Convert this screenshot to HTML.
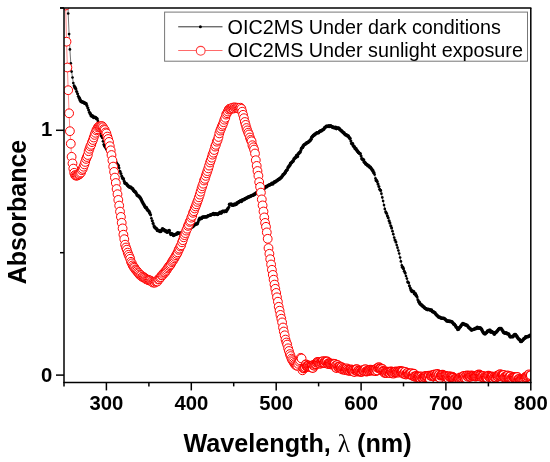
<!DOCTYPE html>
<html><head><meta charset="utf-8"><style>
html,body{margin:0;padding:0;background:#fff;width:550px;height:462px;overflow:hidden}
svg{display:block;will-change:transform}
</style></head><body>
<svg width="550" height="462" viewBox="0 0 550 462">
<clipPath id="c"><rect x="64.0" y="7.9" width="466.8" height="374.5"/></clipPath>
<g clip-path="url(#c)">
<polyline points="65.7,-39.9 66.5,-38.3 67.4,-12 68.2,13.5 69.1,34.1 69.9,49.4 70.8,63.3 71.6,71.6 72.5,77.5 73.3,83.1 74.2,85.7 75,87.6 75.9,89 76.7,91.5 77.6,93.7 78.4,96.3 79.3,98.1 80.1,99.9 81,101.4 81.8,101.8 82.7,102.2 83.5,102.3 84.4,103.1 85.2,103.4 86.1,103.7 86.9,105.6 87.8,107.8 88.6,110 89.5,112.3 90.3,113.7 91.2,115.8 92,115.9 92.9,116.4 93.7,117.5 94.6,117.2 95.4,117.6 96.3,118.3 97.1,119 97.9,121 98.8,125.1 99.6,128.8 100.5,133.3 101.3,135.9 102.2,137.8 103,141.3 103.9,144.5 104.7,146 105.6,147 106.4,148.6 107.3,150 108.1,151 109,151.8 109.8,153.6 110.7,154.4 111.5,156.1 112.4,156.7 113.2,158.7 114.1,159.6 114.9,160.5 115.8,162.1 116.6,163.5 117.5,164.9 118.3,165.7 119.2,168.1 120,171.2 120.9,173.5 121.7,176.1 122.6,178.1 123.4,179 124.3,181.4 125.1,183.3 126,183.6 126.8,184.2 127.7,185.6 128.5,186.2 129.4,187.1 130.2,187.2 131,187.4 131.9,188.5 132.7,188.9 133.6,190.4 134.4,191.4 135.3,191.9 136.1,193.1 137,194.9 137.8,195.7 138.7,196.1 139.5,197.1 140.4,198.1 141.2,199.6 142.1,201.5 142.9,203 143.8,204.5 144.6,206.1 145.5,207.6 146.3,207.5 147.2,209.4 148,210.5 148.9,211.2 149.7,213.1 150.6,214.8 151.4,218.3 152.3,220.7 153.1,223.4 154,225.9 154.8,227.3 155.7,228.3 156.5,228.7 157.4,230.5 158.2,230.4 159.1,230.8 159.9,231.5 160.8,231.5 161.6,230.3 162.5,228.9 163.3,229.6 164.1,229.9 165,230.9 165.8,230.9 166.7,232 167.5,232.2 168.4,231 169.2,230.6 170.1,232.7 170.9,234.4 171.8,233.8 172.6,234.2 173.5,235.4 174.3,234.8 175.2,234.6 176,234.3 176.9,233.9 177.7,232.7 178.6,233.2 179.4,233.4 180.3,233.2 181.1,233.2 182,232.8 182.8,233 183.7,232.1 184.5,231.5 185.4,231.7 186.2,230.6 187.1,229.9 187.9,229.6 188.8,228.8 189.6,228.3 190.5,228 191.3,227.4 192.2,226.4 193,226.6 193.9,225.5 194.7,224.8 195.6,224.3 196.4,223.9 197.3,223.8 198.1,222 198.9,220 199.8,218.3 200.6,218.6 201.5,218.4 202.3,217.4 203.2,217 204,217 204.9,217 205.7,216.8 206.6,217 207.4,216.2 208.3,215.7 209.1,215.5 210,215.2 210.8,214.9 211.7,214.5 212.5,214.2 213.4,213.5 214.2,214.4 215.1,213.9 215.9,213.7 216.8,214.3 217.6,214.4 218.5,213.7 219.3,213.1 220.2,212.3 221,213.2 221.9,212.1 222.7,211.3 223.6,211.4 224.4,211.6 225.3,211 226.1,211.5 227,210 227.8,208.8 228.7,207.2 229.5,204.4 230.4,204.6 231.2,204.1 232,205.2 232.9,205 233.7,205.1 234.6,204.1 235.4,204.6 236.3,204.2 237.1,202.7 238,202.7 238.8,201.9 239.7,201.6 240.5,200.7 241.4,201.4 242.2,200 243.1,199.8 243.9,199.7 244.8,198.9 245.6,198.6 246.5,198.1 247.3,197.8 248.2,197 249,196.9 249.9,196.5 250.7,196.1 251.6,195.8 252.4,195.3 253.3,195.2 254.1,194.4 255,194.1 255.8,193.4 256.7,192.9 257.5,192.1 258.4,192.2 259.2,191.1 260.1,190.7 260.9,190.5 261.8,190 262.6,189.1 263.5,188 264.3,188.3 265.1,187.6 266,186.5 266.8,186.8 267.7,185.8 268.5,185.2 269.4,185.1 270.2,184.6 271.1,184.3 271.9,183.3 272.8,184 273.6,182.8 274.5,181.9 275.3,182 276.2,181.1 277,180.8 277.9,179.9 278.7,179.4 279.6,178.9 280.4,178 281.3,177.6 282.1,176.2 283,174.9 283.8,174.2 284.7,173.3 285.5,171.9 286.4,170.6 287.2,169.8 288.1,167.5 288.9,166.4 289.8,165.3 290.6,163.4 291.5,162.8 292.3,161.7 293.2,160.9 294,159.1 294.9,158.1 295.7,157.5 296.6,155.5 297.4,156.5 298.2,154.1 299.1,153.1 299.9,152.2 300.8,150.4 301.6,148.2 302.5,147.4 303.3,145.9 304.2,144.8 305,144.2 305.9,143.8 306.7,142.7 307.6,142.6 308.4,142.1 309.3,141.3 310.1,140.5 311,139.2 311.8,137.2 312.7,136.2 313.5,135.3 314.4,134.9 315.2,134.1 316.1,133.6 316.9,132.7 317.8,132.7 318.6,132.7 319.5,131.6 320.3,131.1 321.2,130.9 322,130.3 322.9,129.7 323.7,129.2 324.6,127.8 325.4,127.2 326.3,126.3 327.1,126.3 328,126.5 328.8,125.9 329.7,126.5 330.5,125.8 331.3,126.2 332.2,126.9 333,127.4 333.9,127.4 334.7,127.9 335.6,127.4 336.4,128.6 337.3,128.1 338.1,128 339,128.4 339.8,129.4 340.7,130.3 341.5,130.9 342.4,131.7 343.2,132.6 344.1,133.1 344.9,134.2 345.8,134.9 346.6,135.1 347.5,135.9 348.3,136.1 349.2,137.6 350,138.6 350.9,141 351.7,143.6 352.6,143.9 353.4,146 354.3,146.7 355.1,148.4 356,148.9 356.8,150.3 357.7,151.4 358.5,152.5 359.4,153.2 360.2,153.8 361.1,156.1 361.9,158.8 362.8,159.6 363.6,160.1 364.4,162.2 365.3,163.1 366.1,164.2 367,164.5 367.8,165.7 368.7,165.8 369.5,167 370.4,167.4 371.2,168.5 372.1,169.7 372.9,170.9 373.8,172.8 374.6,174.6 375.5,178.4 376.3,180.4 377.2,181.6 378,184.1 378.9,186.5 379.7,189.2 380.6,190.4 381.4,193.7 382.3,197.4 383.1,201 384,205.1 384.8,208.9 385.7,211.7 386.5,213.3 387.4,215.8 388.2,217.8 389.1,220.8 389.9,222.9 390.8,225.8 391.6,227.9 392.5,231.2 393.3,234.2 394.2,237.6 395,240 395.9,242 396.7,245 397.5,247.7 398.4,250.5 399.2,253.5 400.1,257.5 400.9,261.4 401.8,265.4 402.6,267.3 403.5,268.8 404.3,271.3 405.2,273.1 406,276 406.9,278.6 407.7,281.9 408.6,282.8 409.4,285.8 410.3,288.1 411.1,290.1 412,291.4 412.8,291.4 413.7,291.8 414.5,293.7 415.4,293.9 416.2,295.5 417.1,297.1 417.9,299.8 418.8,301.7 419.6,302.9 420.5,304.3 421.3,304.9 422.2,305.6 423,306.5 423.9,307.1 424.7,308 425.6,308.6 426.4,309 427.3,309.6 428.1,309.2 429,309.6 429.8,309.8 430.7,310.3 431.5,310.1 432.3,311.6 433.2,311.8 434,312.3 434.9,312.9 435.7,314.1 436.6,315 437.4,315.7 438.3,316.7 439.1,317.3 440,317.3 440.8,318 441.7,318.2 442.5,318.2 443.4,318.3 444.2,318.5 445.1,319.2 445.9,320 446.8,321 447.6,321.1 448.5,321.1 449.3,321.4 450.2,321.4 451,321.5 451.9,321.9 452.7,322.7 453.6,324.1 454.4,324.3 455.3,325.6 456.1,327 457,327.7 457.8,329.5 458.7,329.1 459.5,327.6 460.4,326.7 461.2,325.5 462.1,324.3 462.9,323.5 463.8,324.1 464.6,324.6 465.4,324.6 466.3,325.3 467.1,325.2 468,326.6 468.8,327.6 469.7,328.2 470.5,329.1 471.4,330.1 472.2,329.8 473.1,329.5 473.9,329.3 474.8,329 475.6,328.3 476.5,328.5 477.3,327.3 478.2,327.9 479,328.2 479.9,327.9 480.7,328.4 481.6,329.4 482.4,331.1 483.3,332.6 484.1,333.4 485,333.9 485.8,333 486.7,332.6 487.5,331 488.4,331.1 489.2,330.3 490.1,330.4 490.9,332.2 491.8,331.6 492.6,332.3 493.5,332.8 494.3,334.2 495.2,332.6 496,332.4 496.9,331.5 497.7,330.5 498.5,329.2 499.4,328.6 500.2,328.5 501.1,328.5 501.9,329.7 502.8,331 503.6,332.4 504.5,332.9 505.3,333.2 506.2,332.7 507,333.6 507.9,334 508.7,334 509.6,335.9 510.4,336.9 511.3,336.5 512.1,336.8 513,336.8 513.8,335.3 514.7,334.6 515.5,334.6 516.4,335.9 517.2,336.9 518.1,338.3 518.9,339.2 519.8,339.7 520.6,341.4 521.5,341.5 522.3,340.5 523.2,339.7 524,338.6 524.9,338.2 525.7,336.8 526.6,337.1 527.4,336.5 528.3,336.6 529.1,336.1 530,335.3 530.8,335.4" fill="none" stroke="#000" stroke-width="0.55"/>
<g fill="#000"><circle cx="65.7" cy="-39.9" r="1.78"/><circle cx="66.5" cy="-38.3" r="1.35"/><circle cx="67.4" cy="-12" r="1.35"/><circle cx="68.2" cy="13.5" r="1.35"/><circle cx="69.1" cy="34.1" r="1.35"/><circle cx="69.9" cy="49.4" r="1.35"/><circle cx="70.8" cy="63.3" r="1.35"/><circle cx="71.6" cy="71.6" r="1.35"/><circle cx="72.5" cy="77.5" r="1.35"/><circle cx="73.3" cy="83.1" r="1.35"/><circle cx="74.2" cy="85.7" r="1.55"/><circle cx="75" cy="87.6" r="1.78"/><circle cx="75.9" cy="89" r="1.55"/><circle cx="76.7" cy="91.5" r="1.55"/><circle cx="77.6" cy="93.7" r="1.55"/><circle cx="78.4" cy="96.3" r="1.55"/><circle cx="79.3" cy="98.1" r="1.78"/><circle cx="80.1" cy="99.9" r="1.78"/><circle cx="81" cy="101.4" r="1.78"/><circle cx="81.8" cy="101.8" r="1.78"/><circle cx="82.7" cy="102.2" r="1.78"/><circle cx="83.5" cy="102.3" r="1.78"/><circle cx="84.4" cy="103.1" r="1.78"/><circle cx="85.2" cy="103.4" r="1.78"/><circle cx="86.1" cy="103.7" r="1.78"/><circle cx="86.9" cy="105.6" r="1.55"/><circle cx="87.8" cy="107.8" r="1.55"/><circle cx="88.6" cy="110" r="1.55"/><circle cx="89.5" cy="112.3" r="1.55"/><circle cx="90.3" cy="113.7" r="1.78"/><circle cx="91.2" cy="115.8" r="1.78"/><circle cx="92" cy="115.9" r="1.78"/><circle cx="92.9" cy="116.4" r="1.78"/><circle cx="93.7" cy="117.5" r="1.78"/><circle cx="94.6" cy="117.2" r="1.78"/><circle cx="95.4" cy="117.6" r="1.78"/><circle cx="96.3" cy="118.3" r="1.78"/><circle cx="97.1" cy="119" r="1.78"/><circle cx="97.9" cy="121" r="1.35"/><circle cx="98.8" cy="125.1" r="1.35"/><circle cx="99.6" cy="128.8" r="1.35"/><circle cx="100.5" cy="133.3" r="1.35"/><circle cx="101.3" cy="135.9" r="1.55"/><circle cx="102.2" cy="137.8" r="1.35"/><circle cx="103" cy="141.3" r="1.35"/><circle cx="103.9" cy="144.5" r="1.55"/><circle cx="104.7" cy="146" r="1.78"/><circle cx="105.6" cy="147" r="1.78"/><circle cx="106.4" cy="148.6" r="1.78"/><circle cx="107.3" cy="150" r="1.78"/><circle cx="108.1" cy="151" r="1.78"/><circle cx="109" cy="151.8" r="1.78"/><circle cx="109.8" cy="153.6" r="1.78"/><circle cx="110.7" cy="154.4" r="1.78"/><circle cx="111.5" cy="156.1" r="1.78"/><circle cx="112.4" cy="156.7" r="1.78"/><circle cx="113.2" cy="158.7" r="1.78"/><circle cx="114.1" cy="159.6" r="1.78"/><circle cx="114.9" cy="160.5" r="1.78"/><circle cx="115.8" cy="162.1" r="1.78"/><circle cx="116.6" cy="163.5" r="1.78"/><circle cx="117.5" cy="164.9" r="1.78"/><circle cx="118.3" cy="165.7" r="1.78"/><circle cx="119.2" cy="168.1" r="1.35"/><circle cx="120" cy="171.2" r="1.55"/><circle cx="120.9" cy="173.5" r="1.55"/><circle cx="121.7" cy="176.1" r="1.55"/><circle cx="122.6" cy="178.1" r="1.78"/><circle cx="123.4" cy="179" r="1.78"/><circle cx="124.3" cy="181.4" r="1.55"/><circle cx="125.1" cy="183.3" r="1.78"/><circle cx="126" cy="183.6" r="1.78"/><circle cx="126.8" cy="184.2" r="1.78"/><circle cx="127.7" cy="185.6" r="1.78"/><circle cx="128.5" cy="186.2" r="1.78"/><circle cx="129.4" cy="187.1" r="1.78"/><circle cx="130.2" cy="187.2" r="1.78"/><circle cx="131" cy="187.4" r="1.78"/><circle cx="131.9" cy="188.5" r="1.78"/><circle cx="132.7" cy="188.9" r="1.78"/><circle cx="133.6" cy="190.4" r="1.78"/><circle cx="134.4" cy="191.4" r="1.78"/><circle cx="135.3" cy="191.9" r="1.78"/><circle cx="136.1" cy="193.1" r="1.78"/><circle cx="137" cy="194.9" r="1.78"/><circle cx="137.8" cy="195.7" r="1.78"/><circle cx="138.7" cy="196.1" r="1.78"/><circle cx="139.5" cy="197.1" r="1.78"/><circle cx="140.4" cy="198.1" r="1.78"/><circle cx="141.2" cy="199.6" r="1.78"/><circle cx="142.1" cy="201.5" r="1.78"/><circle cx="142.9" cy="203" r="1.78"/><circle cx="143.8" cy="204.5" r="1.78"/><circle cx="144.6" cy="206.1" r="1.78"/><circle cx="145.5" cy="207.6" r="1.78"/><circle cx="146.3" cy="207.5" r="1.78"/><circle cx="147.2" cy="209.4" r="1.78"/><circle cx="148" cy="210.5" r="1.78"/><circle cx="148.9" cy="211.2" r="1.78"/><circle cx="149.7" cy="213.1" r="1.78"/><circle cx="150.6" cy="214.8" r="1.55"/><circle cx="151.4" cy="218.3" r="1.35"/><circle cx="152.3" cy="220.7" r="1.55"/><circle cx="153.1" cy="223.4" r="1.55"/><circle cx="154" cy="225.9" r="1.55"/><circle cx="154.8" cy="227.3" r="1.78"/><circle cx="155.7" cy="228.3" r="1.78"/><circle cx="156.5" cy="228.7" r="1.78"/><circle cx="157.4" cy="230.5" r="1.78"/><circle cx="158.2" cy="230.4" r="1.78"/><circle cx="159.1" cy="230.8" r="1.78"/><circle cx="159.9" cy="231.5" r="1.78"/><circle cx="160.8" cy="231.5" r="1.78"/><circle cx="161.6" cy="230.3" r="1.78"/><circle cx="162.5" cy="228.9" r="1.78"/><circle cx="163.3" cy="229.6" r="1.78"/><circle cx="164.1" cy="229.9" r="1.78"/><circle cx="165" cy="230.9" r="1.78"/><circle cx="165.8" cy="230.9" r="1.78"/><circle cx="166.7" cy="232" r="1.78"/><circle cx="167.5" cy="232.2" r="1.78"/><circle cx="168.4" cy="231" r="1.78"/><circle cx="169.2" cy="230.6" r="1.78"/><circle cx="170.1" cy="232.7" r="1.55"/><circle cx="170.9" cy="234.4" r="1.78"/><circle cx="171.8" cy="233.8" r="1.78"/><circle cx="172.6" cy="234.2" r="1.78"/><circle cx="173.5" cy="235.4" r="1.78"/><circle cx="174.3" cy="234.8" r="1.78"/><circle cx="175.2" cy="234.6" r="1.78"/><circle cx="176" cy="234.3" r="1.78"/><circle cx="176.9" cy="233.9" r="1.78"/><circle cx="177.7" cy="232.7" r="1.78"/><circle cx="178.6" cy="233.2" r="1.78"/><circle cx="179.4" cy="233.4" r="1.78"/><circle cx="180.3" cy="233.2" r="1.78"/><circle cx="181.1" cy="233.2" r="1.78"/><circle cx="182" cy="232.8" r="1.78"/><circle cx="182.8" cy="233" r="1.78"/><circle cx="183.7" cy="232.1" r="1.78"/><circle cx="184.5" cy="231.5" r="1.78"/><circle cx="185.4" cy="231.7" r="1.78"/><circle cx="186.2" cy="230.6" r="1.78"/><circle cx="187.1" cy="229.9" r="1.78"/><circle cx="187.9" cy="229.6" r="1.78"/><circle cx="188.8" cy="228.8" r="1.78"/><circle cx="189.6" cy="228.3" r="1.78"/><circle cx="190.5" cy="228" r="1.78"/><circle cx="191.3" cy="227.4" r="1.78"/><circle cx="192.2" cy="226.4" r="1.78"/><circle cx="193" cy="226.6" r="1.78"/><circle cx="193.9" cy="225.5" r="1.78"/><circle cx="194.7" cy="224.8" r="1.78"/><circle cx="195.6" cy="224.3" r="1.78"/><circle cx="196.4" cy="223.9" r="1.78"/><circle cx="197.3" cy="223.8" r="1.78"/><circle cx="198.1" cy="222" r="1.55"/><circle cx="198.9" cy="220" r="1.78"/><circle cx="199.8" cy="218.3" r="1.78"/><circle cx="200.6" cy="218.6" r="1.78"/><circle cx="201.5" cy="218.4" r="1.78"/><circle cx="202.3" cy="217.4" r="1.78"/><circle cx="203.2" cy="217" r="1.78"/><circle cx="204" cy="217" r="1.78"/><circle cx="204.9" cy="217" r="1.78"/><circle cx="205.7" cy="216.8" r="1.78"/><circle cx="206.6" cy="217" r="1.78"/><circle cx="207.4" cy="216.2" r="1.78"/><circle cx="208.3" cy="215.7" r="1.78"/><circle cx="209.1" cy="215.5" r="1.78"/><circle cx="210" cy="215.2" r="1.78"/><circle cx="210.8" cy="214.9" r="1.78"/><circle cx="211.7" cy="214.5" r="1.78"/><circle cx="212.5" cy="214.2" r="1.78"/><circle cx="213.4" cy="213.5" r="1.78"/><circle cx="214.2" cy="214.4" r="1.78"/><circle cx="215.1" cy="213.9" r="1.78"/><circle cx="215.9" cy="213.7" r="1.78"/><circle cx="216.8" cy="214.3" r="1.78"/><circle cx="217.6" cy="214.4" r="1.78"/><circle cx="218.5" cy="213.7" r="1.78"/><circle cx="219.3" cy="213.1" r="1.78"/><circle cx="220.2" cy="212.3" r="1.78"/><circle cx="221" cy="213.2" r="1.78"/><circle cx="221.9" cy="212.1" r="1.78"/><circle cx="222.7" cy="211.3" r="1.78"/><circle cx="223.6" cy="211.4" r="1.78"/><circle cx="224.4" cy="211.6" r="1.78"/><circle cx="225.3" cy="211" r="1.78"/><circle cx="226.1" cy="211.5" r="1.78"/><circle cx="227" cy="210" r="1.78"/><circle cx="227.8" cy="208.8" r="1.78"/><circle cx="228.7" cy="207.2" r="1.55"/><circle cx="229.5" cy="204.4" r="1.78"/><circle cx="230.4" cy="204.6" r="1.78"/><circle cx="231.2" cy="204.1" r="1.78"/><circle cx="232" cy="205.2" r="1.78"/><circle cx="232.9" cy="205" r="1.78"/><circle cx="233.7" cy="205.1" r="1.78"/><circle cx="234.6" cy="204.1" r="1.78"/><circle cx="235.4" cy="204.6" r="1.78"/><circle cx="236.3" cy="204.2" r="1.78"/><circle cx="237.1" cy="202.7" r="1.78"/><circle cx="238" cy="202.7" r="1.78"/><circle cx="238.8" cy="201.9" r="1.78"/><circle cx="239.7" cy="201.6" r="1.78"/><circle cx="240.5" cy="200.7" r="1.78"/><circle cx="241.4" cy="201.4" r="1.78"/><circle cx="242.2" cy="200" r="1.78"/><circle cx="243.1" cy="199.8" r="1.78"/><circle cx="243.9" cy="199.7" r="1.78"/><circle cx="244.8" cy="198.9" r="1.78"/><circle cx="245.6" cy="198.6" r="1.78"/><circle cx="246.5" cy="198.1" r="1.78"/><circle cx="247.3" cy="197.8" r="1.78"/><circle cx="248.2" cy="197" r="1.78"/><circle cx="249" cy="196.9" r="1.78"/><circle cx="249.9" cy="196.5" r="1.78"/><circle cx="250.7" cy="196.1" r="1.78"/><circle cx="251.6" cy="195.8" r="1.78"/><circle cx="252.4" cy="195.3" r="1.78"/><circle cx="253.3" cy="195.2" r="1.78"/><circle cx="254.1" cy="194.4" r="1.78"/><circle cx="255" cy="194.1" r="1.78"/><circle cx="255.8" cy="193.4" r="1.78"/><circle cx="256.7" cy="192.9" r="1.78"/><circle cx="257.5" cy="192.1" r="1.78"/><circle cx="258.4" cy="192.2" r="1.78"/><circle cx="259.2" cy="191.1" r="1.78"/><circle cx="260.1" cy="190.7" r="1.78"/><circle cx="260.9" cy="190.5" r="1.78"/><circle cx="261.8" cy="190" r="1.78"/><circle cx="262.6" cy="189.1" r="1.78"/><circle cx="263.5" cy="188" r="1.78"/><circle cx="264.3" cy="188.3" r="1.78"/><circle cx="265.1" cy="187.6" r="1.78"/><circle cx="266" cy="186.5" r="1.78"/><circle cx="266.8" cy="186.8" r="1.78"/><circle cx="267.7" cy="185.8" r="1.78"/><circle cx="268.5" cy="185.2" r="1.78"/><circle cx="269.4" cy="185.1" r="1.78"/><circle cx="270.2" cy="184.6" r="1.78"/><circle cx="271.1" cy="184.3" r="1.78"/><circle cx="271.9" cy="183.3" r="1.78"/><circle cx="272.8" cy="184" r="1.78"/><circle cx="273.6" cy="182.8" r="1.78"/><circle cx="274.5" cy="181.9" r="1.78"/><circle cx="275.3" cy="182" r="1.78"/><circle cx="276.2" cy="181.1" r="1.78"/><circle cx="277" cy="180.8" r="1.78"/><circle cx="277.9" cy="179.9" r="1.78"/><circle cx="278.7" cy="179.4" r="1.78"/><circle cx="279.6" cy="178.9" r="1.78"/><circle cx="280.4" cy="178" r="1.78"/><circle cx="281.3" cy="177.6" r="1.78"/><circle cx="282.1" cy="176.2" r="1.78"/><circle cx="283" cy="174.9" r="1.78"/><circle cx="283.8" cy="174.2" r="1.78"/><circle cx="284.7" cy="173.3" r="1.78"/><circle cx="285.5" cy="171.9" r="1.78"/><circle cx="286.4" cy="170.6" r="1.78"/><circle cx="287.2" cy="169.8" r="1.78"/><circle cx="288.1" cy="167.5" r="1.78"/><circle cx="288.9" cy="166.4" r="1.78"/><circle cx="289.8" cy="165.3" r="1.78"/><circle cx="290.6" cy="163.4" r="1.78"/><circle cx="291.5" cy="162.8" r="1.78"/><circle cx="292.3" cy="161.7" r="1.78"/><circle cx="293.2" cy="160.9" r="1.78"/><circle cx="294" cy="159.1" r="1.78"/><circle cx="294.9" cy="158.1" r="1.78"/><circle cx="295.7" cy="157.5" r="1.78"/><circle cx="296.6" cy="155.5" r="1.78"/><circle cx="297.4" cy="156.5" r="1.78"/><circle cx="298.2" cy="154.1" r="1.78"/><circle cx="299.1" cy="153.1" r="1.78"/><circle cx="299.9" cy="152.2" r="1.78"/><circle cx="300.8" cy="150.4" r="1.55"/><circle cx="301.6" cy="148.2" r="1.78"/><circle cx="302.5" cy="147.4" r="1.78"/><circle cx="303.3" cy="145.9" r="1.78"/><circle cx="304.2" cy="144.8" r="1.78"/><circle cx="305" cy="144.2" r="1.78"/><circle cx="305.9" cy="143.8" r="1.78"/><circle cx="306.7" cy="142.7" r="1.78"/><circle cx="307.6" cy="142.6" r="1.78"/><circle cx="308.4" cy="142.1" r="1.78"/><circle cx="309.3" cy="141.3" r="1.78"/><circle cx="310.1" cy="140.5" r="1.78"/><circle cx="311" cy="139.2" r="1.78"/><circle cx="311.8" cy="137.2" r="1.78"/><circle cx="312.7" cy="136.2" r="1.78"/><circle cx="313.5" cy="135.3" r="1.78"/><circle cx="314.4" cy="134.9" r="1.78"/><circle cx="315.2" cy="134.1" r="1.78"/><circle cx="316.1" cy="133.6" r="1.78"/><circle cx="316.9" cy="132.7" r="1.78"/><circle cx="317.8" cy="132.7" r="1.78"/><circle cx="318.6" cy="132.7" r="1.78"/><circle cx="319.5" cy="131.6" r="1.78"/><circle cx="320.3" cy="131.1" r="1.78"/><circle cx="321.2" cy="130.9" r="1.78"/><circle cx="322" cy="130.3" r="1.78"/><circle cx="322.9" cy="129.7" r="1.78"/><circle cx="323.7" cy="129.2" r="1.78"/><circle cx="324.6" cy="127.8" r="1.78"/><circle cx="325.4" cy="127.2" r="1.78"/><circle cx="326.3" cy="126.3" r="1.78"/><circle cx="327.1" cy="126.3" r="1.78"/><circle cx="328" cy="126.5" r="1.78"/><circle cx="328.8" cy="125.9" r="1.78"/><circle cx="329.7" cy="126.5" r="1.78"/><circle cx="330.5" cy="125.8" r="1.78"/><circle cx="331.3" cy="126.2" r="1.78"/><circle cx="332.2" cy="126.9" r="1.78"/><circle cx="333" cy="127.4" r="1.78"/><circle cx="333.9" cy="127.4" r="1.78"/><circle cx="334.7" cy="127.9" r="1.78"/><circle cx="335.6" cy="127.4" r="1.78"/><circle cx="336.4" cy="128.6" r="1.78"/><circle cx="337.3" cy="128.1" r="1.78"/><circle cx="338.1" cy="128" r="1.78"/><circle cx="339" cy="128.4" r="1.78"/><circle cx="339.8" cy="129.4" r="1.78"/><circle cx="340.7" cy="130.3" r="1.78"/><circle cx="341.5" cy="130.9" r="1.78"/><circle cx="342.4" cy="131.7" r="1.78"/><circle cx="343.2" cy="132.6" r="1.78"/><circle cx="344.1" cy="133.1" r="1.78"/><circle cx="344.9" cy="134.2" r="1.78"/><circle cx="345.8" cy="134.9" r="1.78"/><circle cx="346.6" cy="135.1" r="1.78"/><circle cx="347.5" cy="135.9" r="1.78"/><circle cx="348.3" cy="136.1" r="1.78"/><circle cx="349.2" cy="137.6" r="1.78"/><circle cx="350" cy="138.6" r="1.78"/><circle cx="350.9" cy="141" r="1.55"/><circle cx="351.7" cy="143.6" r="1.78"/><circle cx="352.6" cy="143.9" r="1.78"/><circle cx="353.4" cy="146" r="1.78"/><circle cx="354.3" cy="146.7" r="1.78"/><circle cx="355.1" cy="148.4" r="1.78"/><circle cx="356" cy="148.9" r="1.78"/><circle cx="356.8" cy="150.3" r="1.78"/><circle cx="357.7" cy="151.4" r="1.78"/><circle cx="358.5" cy="152.5" r="1.78"/><circle cx="359.4" cy="153.2" r="1.78"/><circle cx="360.2" cy="153.8" r="1.78"/><circle cx="361.1" cy="156.1" r="1.55"/><circle cx="361.9" cy="158.8" r="1.78"/><circle cx="362.8" cy="159.6" r="1.78"/><circle cx="363.6" cy="160.1" r="1.78"/><circle cx="364.4" cy="162.2" r="1.78"/><circle cx="365.3" cy="163.1" r="1.78"/><circle cx="366.1" cy="164.2" r="1.78"/><circle cx="367" cy="164.5" r="1.78"/><circle cx="367.8" cy="165.7" r="1.78"/><circle cx="368.7" cy="165.8" r="1.78"/><circle cx="369.5" cy="167" r="1.78"/><circle cx="370.4" cy="167.4" r="1.78"/><circle cx="371.2" cy="168.5" r="1.78"/><circle cx="372.1" cy="169.7" r="1.78"/><circle cx="372.9" cy="170.9" r="1.78"/><circle cx="373.8" cy="172.8" r="1.78"/><circle cx="374.6" cy="174.6" r="1.35"/><circle cx="375.5" cy="178.4" r="1.35"/><circle cx="376.3" cy="180.4" r="1.78"/><circle cx="377.2" cy="181.6" r="1.55"/><circle cx="378" cy="184.1" r="1.55"/><circle cx="378.9" cy="186.5" r="1.55"/><circle cx="379.7" cy="189.2" r="1.55"/><circle cx="380.6" cy="190.4" r="1.55"/><circle cx="381.4" cy="193.7" r="1.35"/><circle cx="382.3" cy="197.4" r="1.35"/><circle cx="383.1" cy="201" r="1.35"/><circle cx="384" cy="205.1" r="1.35"/><circle cx="384.8" cy="208.9" r="1.35"/><circle cx="385.7" cy="211.7" r="1.55"/><circle cx="386.5" cy="213.3" r="1.55"/><circle cx="387.4" cy="215.8" r="1.55"/><circle cx="388.2" cy="217.8" r="1.55"/><circle cx="389.1" cy="220.8" r="1.55"/><circle cx="389.9" cy="222.9" r="1.55"/><circle cx="390.8" cy="225.8" r="1.55"/><circle cx="391.6" cy="227.9" r="1.55"/><circle cx="392.5" cy="231.2" r="1.35"/><circle cx="393.3" cy="234.2" r="1.35"/><circle cx="394.2" cy="237.6" r="1.35"/><circle cx="395" cy="240" r="1.55"/><circle cx="395.9" cy="242" r="1.55"/><circle cx="396.7" cy="245" r="1.35"/><circle cx="397.5" cy="247.7" r="1.35"/><circle cx="398.4" cy="250.5" r="1.35"/><circle cx="399.2" cy="253.5" r="1.35"/><circle cx="400.1" cy="257.5" r="1.35"/><circle cx="400.9" cy="261.4" r="1.35"/><circle cx="401.8" cy="265.4" r="1.35"/><circle cx="402.6" cy="267.3" r="1.78"/><circle cx="403.5" cy="268.8" r="1.55"/><circle cx="404.3" cy="271.3" r="1.55"/><circle cx="405.2" cy="273.1" r="1.55"/><circle cx="406" cy="276" r="1.35"/><circle cx="406.9" cy="278.6" r="1.35"/><circle cx="407.7" cy="281.9" r="1.55"/><circle cx="408.6" cy="282.8" r="1.55"/><circle cx="409.4" cy="285.8" r="1.55"/><circle cx="410.3" cy="288.1" r="1.55"/><circle cx="411.1" cy="290.1" r="1.78"/><circle cx="412" cy="291.4" r="1.78"/><circle cx="412.8" cy="291.4" r="1.78"/><circle cx="413.7" cy="291.8" r="1.78"/><circle cx="414.5" cy="293.7" r="1.78"/><circle cx="415.4" cy="293.9" r="1.78"/><circle cx="416.2" cy="295.5" r="1.78"/><circle cx="417.1" cy="297.1" r="1.55"/><circle cx="417.9" cy="299.8" r="1.55"/><circle cx="418.8" cy="301.7" r="1.78"/><circle cx="419.6" cy="302.9" r="1.78"/><circle cx="420.5" cy="304.3" r="1.78"/><circle cx="421.3" cy="304.9" r="1.78"/><circle cx="422.2" cy="305.6" r="1.78"/><circle cx="423" cy="306.5" r="1.78"/><circle cx="423.9" cy="307.1" r="1.78"/><circle cx="424.7" cy="308" r="1.78"/><circle cx="425.6" cy="308.6" r="1.78"/><circle cx="426.4" cy="309" r="1.78"/><circle cx="427.3" cy="309.6" r="1.78"/><circle cx="428.1" cy="309.2" r="1.78"/><circle cx="429" cy="309.6" r="1.78"/><circle cx="429.8" cy="309.8" r="1.78"/><circle cx="430.7" cy="310.3" r="1.78"/><circle cx="431.5" cy="310.1" r="1.78"/><circle cx="432.3" cy="311.6" r="1.78"/><circle cx="433.2" cy="311.8" r="1.78"/><circle cx="434" cy="312.3" r="1.78"/><circle cx="434.9" cy="312.9" r="1.78"/><circle cx="435.7" cy="314.1" r="1.78"/><circle cx="436.6" cy="315" r="1.78"/><circle cx="437.4" cy="315.7" r="1.78"/><circle cx="438.3" cy="316.7" r="1.78"/><circle cx="439.1" cy="317.3" r="1.78"/><circle cx="440" cy="317.3" r="1.78"/><circle cx="440.8" cy="318" r="1.78"/><circle cx="441.7" cy="318.2" r="1.78"/><circle cx="442.5" cy="318.2" r="1.78"/><circle cx="443.4" cy="318.3" r="1.78"/><circle cx="444.2" cy="318.5" r="1.78"/><circle cx="445.1" cy="319.2" r="1.78"/><circle cx="445.9" cy="320" r="1.78"/><circle cx="446.8" cy="321" r="1.78"/><circle cx="447.6" cy="321.1" r="1.78"/><circle cx="448.5" cy="321.1" r="1.78"/><circle cx="449.3" cy="321.4" r="1.78"/><circle cx="450.2" cy="321.4" r="1.78"/><circle cx="451" cy="321.5" r="1.78"/><circle cx="451.9" cy="321.9" r="1.78"/><circle cx="452.7" cy="322.7" r="1.78"/><circle cx="453.6" cy="324.1" r="1.78"/><circle cx="454.4" cy="324.3" r="1.78"/><circle cx="455.3" cy="325.6" r="1.78"/><circle cx="456.1" cy="327" r="1.78"/><circle cx="457" cy="327.7" r="1.78"/><circle cx="457.8" cy="329.5" r="1.78"/><circle cx="458.7" cy="329.1" r="1.78"/><circle cx="459.5" cy="327.6" r="1.78"/><circle cx="460.4" cy="326.7" r="1.78"/><circle cx="461.2" cy="325.5" r="1.78"/><circle cx="462.1" cy="324.3" r="1.78"/><circle cx="462.9" cy="323.5" r="1.78"/><circle cx="463.8" cy="324.1" r="1.78"/><circle cx="464.6" cy="324.6" r="1.78"/><circle cx="465.4" cy="324.6" r="1.78"/><circle cx="466.3" cy="325.3" r="1.78"/><circle cx="467.1" cy="325.2" r="1.78"/><circle cx="468" cy="326.6" r="1.78"/><circle cx="468.8" cy="327.6" r="1.78"/><circle cx="469.7" cy="328.2" r="1.78"/><circle cx="470.5" cy="329.1" r="1.78"/><circle cx="471.4" cy="330.1" r="1.78"/><circle cx="472.2" cy="329.8" r="1.78"/><circle cx="473.1" cy="329.5" r="1.78"/><circle cx="473.9" cy="329.3" r="1.78"/><circle cx="474.8" cy="329" r="1.78"/><circle cx="475.6" cy="328.3" r="1.78"/><circle cx="476.5" cy="328.5" r="1.78"/><circle cx="477.3" cy="327.3" r="1.78"/><circle cx="478.2" cy="327.9" r="1.78"/><circle cx="479" cy="328.2" r="1.78"/><circle cx="479.9" cy="327.9" r="1.78"/><circle cx="480.7" cy="328.4" r="1.78"/><circle cx="481.6" cy="329.4" r="1.78"/><circle cx="482.4" cy="331.1" r="1.78"/><circle cx="483.3" cy="332.6" r="1.78"/><circle cx="484.1" cy="333.4" r="1.78"/><circle cx="485" cy="333.9" r="1.78"/><circle cx="485.8" cy="333" r="1.78"/><circle cx="486.7" cy="332.6" r="1.78"/><circle cx="487.5" cy="331" r="1.78"/><circle cx="488.4" cy="331.1" r="1.78"/><circle cx="489.2" cy="330.3" r="1.78"/><circle cx="490.1" cy="330.4" r="1.78"/><circle cx="490.9" cy="332.2" r="1.78"/><circle cx="491.8" cy="331.6" r="1.78"/><circle cx="492.6" cy="332.3" r="1.78"/><circle cx="493.5" cy="332.8" r="1.78"/><circle cx="494.3" cy="334.2" r="1.78"/><circle cx="495.2" cy="332.6" r="1.78"/><circle cx="496" cy="332.4" r="1.78"/><circle cx="496.9" cy="331.5" r="1.78"/><circle cx="497.7" cy="330.5" r="1.78"/><circle cx="498.5" cy="329.2" r="1.78"/><circle cx="499.4" cy="328.6" r="1.78"/><circle cx="500.2" cy="328.5" r="1.78"/><circle cx="501.1" cy="328.5" r="1.78"/><circle cx="501.9" cy="329.7" r="1.78"/><circle cx="502.8" cy="331" r="1.78"/><circle cx="503.6" cy="332.4" r="1.78"/><circle cx="504.5" cy="332.9" r="1.78"/><circle cx="505.3" cy="333.2" r="1.78"/><circle cx="506.2" cy="332.7" r="1.78"/><circle cx="507" cy="333.6" r="1.78"/><circle cx="507.9" cy="334" r="1.78"/><circle cx="508.7" cy="334" r="1.78"/><circle cx="509.6" cy="335.9" r="1.78"/><circle cx="510.4" cy="336.9" r="1.78"/><circle cx="511.3" cy="336.5" r="1.78"/><circle cx="512.1" cy="336.8" r="1.78"/><circle cx="513" cy="336.8" r="1.78"/><circle cx="513.8" cy="335.3" r="1.78"/><circle cx="514.7" cy="334.6" r="1.78"/><circle cx="515.5" cy="334.6" r="1.78"/><circle cx="516.4" cy="335.9" r="1.78"/><circle cx="517.2" cy="336.9" r="1.78"/><circle cx="518.1" cy="338.3" r="1.78"/><circle cx="518.9" cy="339.2" r="1.78"/><circle cx="519.8" cy="339.7" r="1.78"/><circle cx="520.6" cy="341.4" r="1.78"/><circle cx="521.5" cy="341.5" r="1.78"/><circle cx="522.3" cy="340.5" r="1.78"/><circle cx="523.2" cy="339.7" r="1.78"/><circle cx="524" cy="338.6" r="1.78"/><circle cx="524.9" cy="338.2" r="1.78"/><circle cx="525.7" cy="336.8" r="1.78"/><circle cx="526.6" cy="337.1" r="1.78"/><circle cx="527.4" cy="336.5" r="1.78"/><circle cx="528.3" cy="336.6" r="1.78"/><circle cx="529.1" cy="336.1" r="1.78"/><circle cx="530" cy="335.3" r="1.78"/><circle cx="530.8" cy="335.4" r="1.78"/></g>
<polyline points="65.7,5.5 66.5,41.7 67.4,67.5 68.2,90.2 69.1,113.3 69.9,131.2 70.8,143.7 71.6,156.8 72.5,163.4 73.3,168.6 74.2,172.8 75,175.1 75.9,175.6 76.7,175.6 77.6,175.4 78.4,174.7 79.3,174.4 80.1,173.5 81,172.5 81.8,170.2 82.7,168.9 83.5,166.7 84.4,164.4 85.2,161.9 86.1,158.9 86.9,157 87.8,155 88.6,151.2 89.5,148.8 90.3,146.4 91.2,144.8 92,142.1 92.9,140 93.7,137.5 94.6,134.9 95.4,132.8 96.3,130.4 97.1,129.2 97.9,127.4 98.8,126.5 99.6,126.5 100.5,126.9 101.3,126.1 102.2,126.2 103,127.3 103.9,129.2 104.7,130 105.6,132.4 106.4,133.4 107.3,136.6 108.1,139 109,141.9 109.8,146.2 110.7,150.3 111.5,155 112.4,160.4 113.2,166.6 114.1,171.9 114.9,177.6 115.8,183 116.6,189 117.5,194.2 118.3,199.9 119.2,205.6 120,211.6 120.9,216.9 121.7,222.8 122.6,228.4 123.4,234.7 124.3,239.2 125.1,244.7 126,247.5 126.8,249.7 127.7,252.6 128.5,254.8 129.4,256.7 130.2,258.8 131,261.8 131.9,263.4 132.7,265.4 133.6,266.8 134.4,267.8 135.3,269.4 136.1,270.2 137,271.1 137.8,272.4 138.7,273.2 139.5,274.5 140.4,275.4 141.2,275.4 142.1,276.8 142.9,276.6 143.8,277.5 144.6,277.8 145.5,278.6 146.3,279.3 147.2,279.5 148,279.8 148.9,280.2 149.7,280.5 150.6,280.6 151.4,281.5 152.3,282.1 153.1,282.6 154,282.3 154.8,282.7 155.7,281.7 156.5,281.2 157.4,281.5 158.2,279.5 159.1,279.3 159.9,277.8 160.8,277.2 161.6,275.4 162.5,275.3 163.3,273.9 164.1,272.6 165,272.5 165.8,271.2 166.7,269.9 167.5,268.4 168.4,267.4 169.2,266.1 170.1,265.2 170.9,264 171.8,262.2 172.6,261 173.5,259.8 174.3,258.3 175.2,256.9 176,255.3 176.9,253.9 177.7,252.3 178.6,249.9 179.4,248.6 180.3,246.5 181.1,245.3 182,242.3 182.8,240.2 183.7,237.3 184.5,235.1 185.4,233.1 186.2,230.6 187.1,228.7 187.9,225.9 188.8,224.6 189.6,221.9 190.5,220.7 191.3,217.7 192.2,216 193,212.8 193.9,211.2 194.7,208.5 195.6,206.4 196.4,204.3 197.3,201.9 198.1,199.8 198.9,197.3 199.8,194.6 200.6,191.7 201.5,188.6 202.3,186.2 203.2,183.7 204,180.5 204.9,178.8 205.7,175.9 206.6,173.3 207.4,171.1 208.3,168.4 209.1,165.6 210,162.5 210.8,160.3 211.7,157.7 212.5,154.7 213.4,152.7 214.2,150 215.1,146.6 215.9,144.8 216.8,141.7 217.6,140 218.5,137 219.3,133.4 220.2,130.6 221,128.7 221.9,126.3 222.7,124.7 223.6,122.2 224.4,119.7 225.3,117.8 226.1,114.6 227,113.2 227.8,111.5 228.7,109.6 229.5,108.7 230.4,108.6 231.2,109 232,108.2 232.9,107.6 233.7,108.5 234.6,107.3 235.4,108.1 236.3,107.7 237.1,108.2 238,107.7 238.8,108.6 239.7,108.3 240.5,107.7 241.4,108.8 242.2,111.7 243.1,114.8 243.9,118.2 244.8,122 245.6,124.9 246.5,128 247.3,130.4 248.2,132.7 249,134.5 249.9,137.5 250.7,139.9 251.6,141.3 252.4,145.2 253.3,147.3 254.1,149.6 255,153.5 255.8,160.2 256.7,165.9 257.5,171 258.4,175.8 259.2,182.1 260.1,186.9 260.9,192.6 261.8,199.4 262.6,205.4 263.5,211.5 264.3,217.4 265.1,222.9 266,226.8 266.8,232.4 267.7,238.8 268.5,248.1 269.4,253.8 270.2,259.2 271.1,264.5 271.9,269.8 272.8,274.9 273.6,279.7 274.5,284.6 275.3,288.8 276.2,292.9 277,297.3 277.9,301.7 278.7,306.8 279.6,310.7 280.4,314.9 281.3,318.7 282.1,322.4 283,327.5 283.8,331.5 284.7,335.3 285.5,339.6 286.4,342.5 287.2,344.6 288.1,348.3 288.9,351 289.8,354.1 290.6,356.1 291.5,358.6 292.3,360.1 293.2,361.4 294,363 294.9,364.2 295.7,365 296.6,365.7 297.4,365.7 298.2,363.8 299.1,361.7 299.9,360.2 300.8,357.8 301.6,358.5 302.5,370.3 303.3,368.4 304.2,368.3 305,367.2 305.9,364.5 306.7,366.2 307.6,366.6 308.4,365.6 309.3,366.5 310.1,366.7 311,367.3 311.8,366.6 312.7,368 313.5,365.1 314.4,365.8 315.2,364.5 316.1,364.3 316.9,362.8 317.8,361.9 318.6,362.4 319.5,363.3 320.3,363.7 321.2,362.8 322,362.5 322.9,361.3 323.7,363 324.6,362.7 325.4,361.2 326.3,362 327.1,361.5 328,363.9 328.8,363.3 329.7,363.3 330.5,364 331.3,364.4 332.2,364 333,363.7 333.9,364 334.7,364 335.6,366.1 336.4,367.9 337.3,365.1 338.1,366.9 339,367.4 339.8,366.6 340.7,367.9 341.5,367.2 342.4,369.4 343.2,368.3 344.1,369.2 344.9,370 345.8,369.3 346.6,368.4 347.5,369.6 348.3,370.8 349.2,370.3 350,370.7 350.9,369.6 351.7,370.5 352.6,371 353.4,370.4 354.3,371.9 355.1,370.1 356,369.6 356.8,369.2 357.7,371.5 358.5,370.6 359.4,371.5 360.2,371.1 361.1,372 361.9,371.6 362.8,370.2 363.6,370.6 364.4,371.1 365.3,369.2 366.1,371.5 367,371.3 367.8,371.2 368.7,370.3 369.5,370.8 370.4,369.7 371.2,370.6 372.1,370 372.9,370.5 373.8,370 374.6,370.5 375.5,371.1 376.3,368.9 377.2,370.5 378,367.9 378.9,367.3 379.7,368.5 380.6,368.6 381.4,369.8 382.3,369 383.1,371 384,371.6 384.8,372.9 385.7,372.3 386.5,372.9 387.4,371.7 388.2,372.3 389.1,372.1 389.9,373.1 390.8,371.6 391.6,371.7 392.5,372.7 393.3,373.6 394.2,372.4 395,372.2 395.9,371.5 396.7,372.5 397.5,371.8 398.4,372.6 399.2,371.8 400.1,371.1 400.9,371.7 401.8,371.6 402.6,371.6 403.5,373.7 404.3,373.4 405.2,371.9 406,374.4 406.9,373.5 407.7,372.9 408.6,374.3 409.4,374.2 410.3,374 411.1,373.3 412,375.2 412.8,375.7 413.7,373.7 414.5,376.4 415.4,376.7 416.2,376.1 417.1,376.8 417.9,376.8 418.8,376.5 419.6,377.1 420.5,378.6 421.3,376.5 422.2,378.1 423,377.9 423.9,377 424.7,377 425.6,376 426.4,376.2 427.3,376.8 428.1,376.9 429,375.8 429.8,378.8 430.7,375.7 431.5,376 432.3,375.4 433.2,375 434,376.1 434.9,374.5 435.7,375.7 436.6,375.4 437.4,374 438.3,376 439.1,374.9 440,378 440.8,375.6 441.7,375.3 442.5,374.7 443.4,375.4 444.2,376.1 445.1,376 445.9,376 446.8,376.7 447.6,377.2 448.5,378.6 449.3,376.2 450.2,377.3 451,377.1 451.9,376.7 452.7,377.2 453.6,377.8 454.4,379.4 455.3,378.9 456.1,378.9 457,379.8 457.8,379.3 458.7,378.6 459.5,378.8 460.4,377.6 461.2,378.4 462.1,378 462.9,377 463.8,376.1 464.6,377.9 465.4,376.5 466.3,378.6 467.1,375.6 468,376.8 468.8,375.7 469.7,376.2 470.5,376.7 471.4,375.4 472.2,375.9 473.1,376 473.9,375.9 474.8,376.2 475.6,376.4 476.5,376.2 477.3,375.6 478.2,375 479,374.6 479.9,375.2 480.7,375.7 481.6,376.9 482.4,376.4 483.3,376 484.1,377.7 485,376.9 485.8,377.2 486.7,377.6 487.5,378.1 488.4,375.7 489.2,376.6 490.1,377.5 490.9,377 491.8,376.5 492.6,376.9 493.5,378.5 494.3,377 495.2,377.6 496,377.4 496.9,376 497.7,376.4 498.5,375.4 499.4,374.9 500.2,374.2 501.1,375.9 501.9,375.1 502.8,375.2 503.6,375 504.5,377.6 505.3,376.9 506.2,376.4 507,376.1 507.9,375.6 508.7,377.3 509.6,377.4 510.4,376.3 511.3,378.5 512.1,378.2 513,377 513.8,377.4 514.7,377.6 515.5,378.2 516.4,378.1 517.2,377.1 518.1,379.7 518.9,379 519.8,380.1 520.6,380.3 521.5,379.2 522.3,379.3 523.2,379.3 524,379 524.9,377.9 525.7,377.1 526.6,377.2 527.4,376.1 528.3,375.8 529.1,374.4 530,376.1 530.8,375.2" fill="none" stroke="#ff8a8a" stroke-width="1"/>
<g fill="#fff" stroke="#ff0000" stroke-width="1"><circle cx="65.7" cy="5.5" r="4.4"/><circle cx="66.5" cy="41.7" r="4.4"/><circle cx="67.4" cy="67.5" r="4.4"/><circle cx="68.2" cy="90.2" r="4.4"/><circle cx="69.1" cy="113.3" r="4.4"/><circle cx="69.9" cy="131.2" r="4.4"/><circle cx="70.8" cy="143.7" r="4.4"/><circle cx="71.6" cy="156.8" r="4.4"/><circle cx="72.5" cy="163.4" r="4.4"/><circle cx="73.3" cy="168.6" r="4.4"/><circle cx="74.2" cy="172.8" r="4.4"/><circle cx="75" cy="175.1" r="4.4"/><circle cx="75.9" cy="175.6" r="4.4"/><circle cx="76.7" cy="175.6" r="4.4"/><circle cx="77.6" cy="175.4" r="4.4"/><circle cx="78.4" cy="174.7" r="4.4"/><circle cx="79.3" cy="174.4" r="4.4"/><circle cx="80.1" cy="173.5" r="4.4"/><circle cx="81" cy="172.5" r="4.4"/><circle cx="81.8" cy="170.2" r="4.4"/><circle cx="82.7" cy="168.9" r="4.4"/><circle cx="83.5" cy="166.7" r="4.4"/><circle cx="84.4" cy="164.4" r="4.4"/><circle cx="85.2" cy="161.9" r="4.4"/><circle cx="86.1" cy="158.9" r="4.4"/><circle cx="86.9" cy="157" r="4.4"/><circle cx="87.8" cy="155" r="4.4"/><circle cx="88.6" cy="151.2" r="4.4"/><circle cx="89.5" cy="148.8" r="4.4"/><circle cx="90.3" cy="146.4" r="4.4"/><circle cx="91.2" cy="144.8" r="4.4"/><circle cx="92" cy="142.1" r="4.4"/><circle cx="92.9" cy="140" r="4.4"/><circle cx="93.7" cy="137.5" r="4.4"/><circle cx="94.6" cy="134.9" r="4.4"/><circle cx="95.4" cy="132.8" r="4.4"/><circle cx="96.3" cy="130.4" r="4.4"/><circle cx="97.1" cy="129.2" r="4.4"/><circle cx="97.9" cy="127.4" r="4.4"/><circle cx="98.8" cy="126.5" r="4.4"/><circle cx="99.6" cy="126.5" r="4.4"/><circle cx="100.5" cy="126.9" r="4.4"/><circle cx="101.3" cy="126.1" r="4.4"/><circle cx="102.2" cy="126.2" r="4.4"/><circle cx="103" cy="127.3" r="4.4"/><circle cx="103.9" cy="129.2" r="4.4"/><circle cx="104.7" cy="130" r="4.4"/><circle cx="105.6" cy="132.4" r="4.4"/><circle cx="106.4" cy="133.4" r="4.4"/><circle cx="107.3" cy="136.6" r="4.4"/><circle cx="108.1" cy="139" r="4.4"/><circle cx="109" cy="141.9" r="4.4"/><circle cx="109.8" cy="146.2" r="4.4"/><circle cx="110.7" cy="150.3" r="4.4"/><circle cx="111.5" cy="155" r="4.4"/><circle cx="112.4" cy="160.4" r="4.4"/><circle cx="113.2" cy="166.6" r="4.4"/><circle cx="114.1" cy="171.9" r="4.4"/><circle cx="114.9" cy="177.6" r="4.4"/><circle cx="115.8" cy="183" r="4.4"/><circle cx="116.6" cy="189" r="4.4"/><circle cx="117.5" cy="194.2" r="4.4"/><circle cx="118.3" cy="199.9" r="4.4"/><circle cx="119.2" cy="205.6" r="4.4"/><circle cx="120" cy="211.6" r="4.4"/><circle cx="120.9" cy="216.9" r="4.4"/><circle cx="121.7" cy="222.8" r="4.4"/><circle cx="122.6" cy="228.4" r="4.4"/><circle cx="123.4" cy="234.7" r="4.4"/><circle cx="124.3" cy="239.2" r="4.4"/><circle cx="125.1" cy="244.7" r="4.4"/><circle cx="126" cy="247.5" r="4.4"/><circle cx="126.8" cy="249.7" r="4.4"/><circle cx="127.7" cy="252.6" r="4.4"/><circle cx="128.5" cy="254.8" r="4.4"/><circle cx="129.4" cy="256.7" r="4.4"/><circle cx="130.2" cy="258.8" r="4.4"/><circle cx="131" cy="261.8" r="4.4"/><circle cx="131.9" cy="263.4" r="4.4"/><circle cx="132.7" cy="265.4" r="4.4"/><circle cx="133.6" cy="266.8" r="4.4"/><circle cx="134.4" cy="267.8" r="4.4"/><circle cx="135.3" cy="269.4" r="4.4"/><circle cx="136.1" cy="270.2" r="4.4"/><circle cx="137" cy="271.1" r="4.4"/><circle cx="137.8" cy="272.4" r="4.4"/><circle cx="138.7" cy="273.2" r="4.4"/><circle cx="139.5" cy="274.5" r="4.4"/><circle cx="140.4" cy="275.4" r="4.4"/><circle cx="141.2" cy="275.4" r="4.4"/><circle cx="142.1" cy="276.8" r="4.4"/><circle cx="142.9" cy="276.6" r="4.4"/><circle cx="143.8" cy="277.5" r="4.4"/><circle cx="144.6" cy="277.8" r="4.4"/><circle cx="145.5" cy="278.6" r="4.4"/><circle cx="146.3" cy="279.3" r="4.4"/><circle cx="147.2" cy="279.5" r="4.4"/><circle cx="148" cy="279.8" r="4.4"/><circle cx="148.9" cy="280.2" r="4.4"/><circle cx="149.7" cy="280.5" r="4.4"/><circle cx="150.6" cy="280.6" r="4.4"/><circle cx="151.4" cy="281.5" r="4.4"/><circle cx="152.3" cy="282.1" r="4.4"/><circle cx="153.1" cy="282.6" r="4.4"/><circle cx="154" cy="282.3" r="4.4"/><circle cx="154.8" cy="282.7" r="4.4"/><circle cx="155.7" cy="281.7" r="4.4"/><circle cx="156.5" cy="281.2" r="4.4"/><circle cx="157.4" cy="281.5" r="4.4"/><circle cx="158.2" cy="279.5" r="4.4"/><circle cx="159.1" cy="279.3" r="4.4"/><circle cx="159.9" cy="277.8" r="4.4"/><circle cx="160.8" cy="277.2" r="4.4"/><circle cx="161.6" cy="275.4" r="4.4"/><circle cx="162.5" cy="275.3" r="4.4"/><circle cx="163.3" cy="273.9" r="4.4"/><circle cx="164.1" cy="272.6" r="4.4"/><circle cx="165" cy="272.5" r="4.4"/><circle cx="165.8" cy="271.2" r="4.4"/><circle cx="166.7" cy="269.9" r="4.4"/><circle cx="167.5" cy="268.4" r="4.4"/><circle cx="168.4" cy="267.4" r="4.4"/><circle cx="169.2" cy="266.1" r="4.4"/><circle cx="170.1" cy="265.2" r="4.4"/><circle cx="170.9" cy="264" r="4.4"/><circle cx="171.8" cy="262.2" r="4.4"/><circle cx="172.6" cy="261" r="4.4"/><circle cx="173.5" cy="259.8" r="4.4"/><circle cx="174.3" cy="258.3" r="4.4"/><circle cx="175.2" cy="256.9" r="4.4"/><circle cx="176" cy="255.3" r="4.4"/><circle cx="176.9" cy="253.9" r="4.4"/><circle cx="177.7" cy="252.3" r="4.4"/><circle cx="178.6" cy="249.9" r="4.4"/><circle cx="179.4" cy="248.6" r="4.4"/><circle cx="180.3" cy="246.5" r="4.4"/><circle cx="181.1" cy="245.3" r="4.4"/><circle cx="182" cy="242.3" r="4.4"/><circle cx="182.8" cy="240.2" r="4.4"/><circle cx="183.7" cy="237.3" r="4.4"/><circle cx="184.5" cy="235.1" r="4.4"/><circle cx="185.4" cy="233.1" r="4.4"/><circle cx="186.2" cy="230.6" r="4.4"/><circle cx="187.1" cy="228.7" r="4.4"/><circle cx="187.9" cy="225.9" r="4.4"/><circle cx="188.8" cy="224.6" r="4.4"/><circle cx="189.6" cy="221.9" r="4.4"/><circle cx="190.5" cy="220.7" r="4.4"/><circle cx="191.3" cy="217.7" r="4.4"/><circle cx="192.2" cy="216" r="4.4"/><circle cx="193" cy="212.8" r="4.4"/><circle cx="193.9" cy="211.2" r="4.4"/><circle cx="194.7" cy="208.5" r="4.4"/><circle cx="195.6" cy="206.4" r="4.4"/><circle cx="196.4" cy="204.3" r="4.4"/><circle cx="197.3" cy="201.9" r="4.4"/><circle cx="198.1" cy="199.8" r="4.4"/><circle cx="198.9" cy="197.3" r="4.4"/><circle cx="199.8" cy="194.6" r="4.4"/><circle cx="200.6" cy="191.7" r="4.4"/><circle cx="201.5" cy="188.6" r="4.4"/><circle cx="202.3" cy="186.2" r="4.4"/><circle cx="203.2" cy="183.7" r="4.4"/><circle cx="204" cy="180.5" r="4.4"/><circle cx="204.9" cy="178.8" r="4.4"/><circle cx="205.7" cy="175.9" r="4.4"/><circle cx="206.6" cy="173.3" r="4.4"/><circle cx="207.4" cy="171.1" r="4.4"/><circle cx="208.3" cy="168.4" r="4.4"/><circle cx="209.1" cy="165.6" r="4.4"/><circle cx="210" cy="162.5" r="4.4"/><circle cx="210.8" cy="160.3" r="4.4"/><circle cx="211.7" cy="157.7" r="4.4"/><circle cx="212.5" cy="154.7" r="4.4"/><circle cx="213.4" cy="152.7" r="4.4"/><circle cx="214.2" cy="150" r="4.4"/><circle cx="215.1" cy="146.6" r="4.4"/><circle cx="215.9" cy="144.8" r="4.4"/><circle cx="216.8" cy="141.7" r="4.4"/><circle cx="217.6" cy="140" r="4.4"/><circle cx="218.5" cy="137" r="4.4"/><circle cx="219.3" cy="133.4" r="4.4"/><circle cx="220.2" cy="130.6" r="4.4"/><circle cx="221" cy="128.7" r="4.4"/><circle cx="221.9" cy="126.3" r="4.4"/><circle cx="222.7" cy="124.7" r="4.4"/><circle cx="223.6" cy="122.2" r="4.4"/><circle cx="224.4" cy="119.7" r="4.4"/><circle cx="225.3" cy="117.8" r="4.4"/><circle cx="226.1" cy="114.6" r="4.4"/><circle cx="227" cy="113.2" r="4.4"/><circle cx="227.8" cy="111.5" r="4.4"/><circle cx="228.7" cy="109.6" r="4.4"/><circle cx="229.5" cy="108.7" r="4.4"/><circle cx="230.4" cy="108.6" r="4.4"/><circle cx="231.2" cy="109" r="4.4"/><circle cx="232" cy="108.2" r="4.4"/><circle cx="232.9" cy="107.6" r="4.4"/><circle cx="233.7" cy="108.5" r="4.4"/><circle cx="234.6" cy="107.3" r="4.4"/><circle cx="235.4" cy="108.1" r="4.4"/><circle cx="236.3" cy="107.7" r="4.4"/><circle cx="237.1" cy="108.2" r="4.4"/><circle cx="238" cy="107.7" r="4.4"/><circle cx="238.8" cy="108.6" r="4.4"/><circle cx="239.7" cy="108.3" r="4.4"/><circle cx="240.5" cy="107.7" r="4.4"/><circle cx="241.4" cy="108.8" r="4.4"/><circle cx="242.2" cy="111.7" r="4.4"/><circle cx="243.1" cy="114.8" r="4.4"/><circle cx="243.9" cy="118.2" r="4.4"/><circle cx="244.8" cy="122" r="4.4"/><circle cx="245.6" cy="124.9" r="4.4"/><circle cx="246.5" cy="128" r="4.4"/><circle cx="247.3" cy="130.4" r="4.4"/><circle cx="248.2" cy="132.7" r="4.4"/><circle cx="249" cy="134.5" r="4.4"/><circle cx="249.9" cy="137.5" r="4.4"/><circle cx="250.7" cy="139.9" r="4.4"/><circle cx="251.6" cy="141.3" r="4.4"/><circle cx="252.4" cy="145.2" r="4.4"/><circle cx="253.3" cy="147.3" r="4.4"/><circle cx="254.1" cy="149.6" r="4.4"/><circle cx="255" cy="153.5" r="4.4"/><circle cx="255.8" cy="160.2" r="4.4"/><circle cx="256.7" cy="165.9" r="4.4"/><circle cx="257.5" cy="171" r="4.4"/><circle cx="258.4" cy="175.8" r="4.4"/><circle cx="259.2" cy="182.1" r="4.4"/><circle cx="260.1" cy="186.9" r="4.4"/><circle cx="260.9" cy="192.6" r="4.4"/><circle cx="261.8" cy="199.4" r="4.4"/><circle cx="262.6" cy="205.4" r="4.4"/><circle cx="263.5" cy="211.5" r="4.4"/><circle cx="264.3" cy="217.4" r="4.4"/><circle cx="265.1" cy="222.9" r="4.4"/><circle cx="266" cy="226.8" r="4.4"/><circle cx="266.8" cy="232.4" r="4.4"/><circle cx="267.7" cy="238.8" r="4.4"/><circle cx="268.5" cy="248.1" r="4.4"/><circle cx="269.4" cy="253.8" r="4.4"/><circle cx="270.2" cy="259.2" r="4.4"/><circle cx="271.1" cy="264.5" r="4.4"/><circle cx="271.9" cy="269.8" r="4.4"/><circle cx="272.8" cy="274.9" r="4.4"/><circle cx="273.6" cy="279.7" r="4.4"/><circle cx="274.5" cy="284.6" r="4.4"/><circle cx="275.3" cy="288.8" r="4.4"/><circle cx="276.2" cy="292.9" r="4.4"/><circle cx="277" cy="297.3" r="4.4"/><circle cx="277.9" cy="301.7" r="4.4"/><circle cx="278.7" cy="306.8" r="4.4"/><circle cx="279.6" cy="310.7" r="4.4"/><circle cx="280.4" cy="314.9" r="4.4"/><circle cx="281.3" cy="318.7" r="4.4"/><circle cx="282.1" cy="322.4" r="4.4"/><circle cx="283" cy="327.5" r="4.4"/><circle cx="283.8" cy="331.5" r="4.4"/><circle cx="284.7" cy="335.3" r="4.4"/><circle cx="285.5" cy="339.6" r="4.4"/><circle cx="286.4" cy="342.5" r="4.4"/><circle cx="287.2" cy="344.6" r="4.4"/><circle cx="288.1" cy="348.3" r="4.4"/><circle cx="288.9" cy="351" r="4.4"/><circle cx="289.8" cy="354.1" r="4.4"/><circle cx="290.6" cy="356.1" r="4.4"/><circle cx="291.5" cy="358.6" r="4.4"/><circle cx="292.3" cy="360.1" r="4.4"/><circle cx="293.2" cy="361.4" r="4.4"/><circle cx="294" cy="363" r="4.4"/><circle cx="294.9" cy="364.2" r="4.4"/><circle cx="295.7" cy="365" r="4.4"/><circle cx="296.6" cy="365.7" r="4.4"/><circle cx="297.4" cy="365.7" r="4.4"/><circle cx="298.2" cy="363.8" r="4.4"/><circle cx="299.1" cy="361.7" r="4.4"/><circle cx="299.9" cy="360.2" r="4.4"/><circle cx="300.8" cy="357.8" r="4.4"/><circle cx="301.6" cy="358.5" r="4.4"/><circle cx="302.5" cy="370.3" r="4.4"/><circle cx="303.3" cy="368.4" r="4.4"/></g>
<g fill="#fff" stroke="#ff0000" stroke-width="1.2"><circle cx="304.2" cy="368.3" r="4.4"/><circle cx="305" cy="367.2" r="4.4"/><circle cx="305.9" cy="364.5" r="4.4"/><circle cx="306.7" cy="366.2" r="4.4"/><circle cx="307.6" cy="366.6" r="4.4"/><circle cx="308.4" cy="365.6" r="4.4"/><circle cx="309.3" cy="366.5" r="4.4"/><circle cx="310.1" cy="366.7" r="4.4"/><circle cx="311" cy="367.3" r="4.4"/><circle cx="311.8" cy="366.6" r="4.4"/><circle cx="312.7" cy="368" r="4.4"/><circle cx="313.5" cy="365.1" r="4.4"/><circle cx="314.4" cy="365.8" r="4.4"/><circle cx="315.2" cy="364.5" r="4.4"/><circle cx="316.1" cy="364.3" r="4.4"/><circle cx="316.9" cy="362.8" r="4.4"/><circle cx="317.8" cy="361.9" r="4.4"/><circle cx="318.6" cy="362.4" r="4.4"/><circle cx="319.5" cy="363.3" r="4.4"/><circle cx="320.3" cy="363.7" r="4.4"/><circle cx="321.2" cy="362.8" r="4.4"/><circle cx="322" cy="362.5" r="4.4"/><circle cx="322.9" cy="361.3" r="4.4"/><circle cx="323.7" cy="363" r="4.4"/><circle cx="324.6" cy="362.7" r="4.4"/><circle cx="325.4" cy="361.2" r="4.4"/><circle cx="326.3" cy="362" r="4.4"/><circle cx="327.1" cy="361.5" r="4.4"/><circle cx="328" cy="363.9" r="4.4"/><circle cx="328.8" cy="363.3" r="4.4"/><circle cx="329.7" cy="363.3" r="4.4"/><circle cx="330.5" cy="364" r="4.4"/><circle cx="331.3" cy="364.4" r="4.4"/><circle cx="332.2" cy="364" r="4.4"/><circle cx="333" cy="363.7" r="4.4"/><circle cx="333.9" cy="364" r="4.4"/><circle cx="334.7" cy="364" r="4.4"/><circle cx="335.6" cy="366.1" r="4.4"/><circle cx="336.4" cy="367.9" r="4.4"/><circle cx="337.3" cy="365.1" r="4.4"/><circle cx="338.1" cy="366.9" r="4.4"/><circle cx="339" cy="367.4" r="4.4"/><circle cx="339.8" cy="366.6" r="4.4"/><circle cx="340.7" cy="367.9" r="4.4"/><circle cx="341.5" cy="367.2" r="4.4"/><circle cx="342.4" cy="369.4" r="4.4"/><circle cx="343.2" cy="368.3" r="4.4"/><circle cx="344.1" cy="369.2" r="4.4"/><circle cx="344.9" cy="370" r="4.4"/><circle cx="345.8" cy="369.3" r="4.4"/><circle cx="346.6" cy="368.4" r="4.4"/><circle cx="347.5" cy="369.6" r="4.4"/><circle cx="348.3" cy="370.8" r="4.4"/><circle cx="349.2" cy="370.3" r="4.4"/><circle cx="350" cy="370.7" r="4.4"/><circle cx="350.9" cy="369.6" r="4.4"/><circle cx="351.7" cy="370.5" r="4.4"/><circle cx="352.6" cy="371" r="4.4"/><circle cx="353.4" cy="370.4" r="4.4"/><circle cx="354.3" cy="371.9" r="4.4"/><circle cx="355.1" cy="370.1" r="4.4"/><circle cx="356" cy="369.6" r="4.4"/><circle cx="356.8" cy="369.2" r="4.4"/><circle cx="357.7" cy="371.5" r="4.4"/><circle cx="358.5" cy="370.6" r="4.4"/><circle cx="359.4" cy="371.5" r="4.4"/><circle cx="360.2" cy="371.1" r="4.4"/><circle cx="361.1" cy="372" r="4.4"/><circle cx="361.9" cy="371.6" r="4.4"/><circle cx="362.8" cy="370.2" r="4.4"/><circle cx="363.6" cy="370.6" r="4.4"/><circle cx="364.4" cy="371.1" r="4.4"/><circle cx="365.3" cy="369.2" r="4.4"/><circle cx="366.1" cy="371.5" r="4.4"/><circle cx="367" cy="371.3" r="4.4"/><circle cx="367.8" cy="371.2" r="4.4"/><circle cx="368.7" cy="370.3" r="4.4"/><circle cx="369.5" cy="370.8" r="4.4"/><circle cx="370.4" cy="369.7" r="4.4"/><circle cx="371.2" cy="370.6" r="4.4"/><circle cx="372.1" cy="370" r="4.4"/><circle cx="372.9" cy="370.5" r="4.4"/><circle cx="373.8" cy="370" r="4.4"/><circle cx="374.6" cy="370.5" r="4.4"/><circle cx="375.5" cy="371.1" r="4.4"/><circle cx="376.3" cy="368.9" r="4.4"/><circle cx="377.2" cy="370.5" r="4.4"/><circle cx="378" cy="367.9" r="4.4"/><circle cx="378.9" cy="367.3" r="4.4"/><circle cx="379.7" cy="368.5" r="4.4"/><circle cx="380.6" cy="368.6" r="4.4"/><circle cx="381.4" cy="369.8" r="4.4"/><circle cx="382.3" cy="369" r="4.4"/><circle cx="383.1" cy="371" r="4.4"/><circle cx="384" cy="371.6" r="4.4"/><circle cx="384.8" cy="372.9" r="4.4"/><circle cx="385.7" cy="372.3" r="4.4"/><circle cx="386.5" cy="372.9" r="4.4"/><circle cx="387.4" cy="371.7" r="4.4"/><circle cx="388.2" cy="372.3" r="4.4"/><circle cx="389.1" cy="372.1" r="4.4"/><circle cx="389.9" cy="373.1" r="4.4"/><circle cx="390.8" cy="371.6" r="4.4"/><circle cx="391.6" cy="371.7" r="4.4"/><circle cx="392.5" cy="372.7" r="4.4"/><circle cx="393.3" cy="373.6" r="4.4"/><circle cx="394.2" cy="372.4" r="4.4"/><circle cx="395" cy="372.2" r="4.4"/><circle cx="395.9" cy="371.5" r="4.4"/><circle cx="396.7" cy="372.5" r="4.4"/><circle cx="397.5" cy="371.8" r="4.4"/><circle cx="398.4" cy="372.6" r="4.4"/><circle cx="399.2" cy="371.8" r="4.4"/><circle cx="400.1" cy="371.1" r="4.4"/><circle cx="400.9" cy="371.7" r="4.4"/><circle cx="401.8" cy="371.6" r="4.4"/><circle cx="402.6" cy="371.6" r="4.4"/><circle cx="403.5" cy="373.7" r="4.4"/><circle cx="404.3" cy="373.4" r="4.4"/><circle cx="405.2" cy="371.9" r="4.4"/><circle cx="406" cy="374.4" r="4.4"/><circle cx="406.9" cy="373.5" r="4.4"/><circle cx="407.7" cy="372.9" r="4.4"/><circle cx="408.6" cy="374.3" r="4.4"/><circle cx="409.4" cy="374.2" r="4.4"/><circle cx="410.3" cy="374" r="4.4"/><circle cx="411.1" cy="373.3" r="4.4"/><circle cx="412" cy="375.2" r="4.4"/><circle cx="412.8" cy="375.7" r="4.4"/><circle cx="413.7" cy="373.7" r="4.4"/><circle cx="414.5" cy="376.4" r="4.4"/><circle cx="415.4" cy="376.7" r="4.4"/><circle cx="416.2" cy="376.1" r="4.4"/><circle cx="417.1" cy="376.8" r="4.4"/><circle cx="417.9" cy="376.8" r="4.4"/><circle cx="418.8" cy="376.5" r="4.4"/><circle cx="419.6" cy="377.1" r="4.4"/><circle cx="420.5" cy="378.6" r="4.4"/><circle cx="421.3" cy="376.5" r="4.4"/><circle cx="422.2" cy="378.1" r="4.4"/><circle cx="423" cy="377.9" r="4.4"/><circle cx="423.9" cy="377" r="4.4"/><circle cx="424.7" cy="377" r="4.4"/><circle cx="425.6" cy="376" r="4.4"/><circle cx="426.4" cy="376.2" r="4.4"/><circle cx="427.3" cy="376.8" r="4.4"/><circle cx="428.1" cy="376.9" r="4.4"/><circle cx="429" cy="375.8" r="4.4"/><circle cx="429.8" cy="378.8" r="4.4"/><circle cx="430.7" cy="375.7" r="4.4"/><circle cx="431.5" cy="376" r="4.4"/><circle cx="432.3" cy="375.4" r="4.4"/><circle cx="433.2" cy="375" r="4.4"/><circle cx="434" cy="376.1" r="4.4"/><circle cx="434.9" cy="374.5" r="4.4"/><circle cx="435.7" cy="375.7" r="4.4"/><circle cx="436.6" cy="375.4" r="4.4"/><circle cx="437.4" cy="374" r="4.4"/><circle cx="438.3" cy="376" r="4.4"/><circle cx="439.1" cy="374.9" r="4.4"/><circle cx="440" cy="378" r="4.4"/><circle cx="440.8" cy="375.6" r="4.4"/><circle cx="441.7" cy="375.3" r="4.4"/><circle cx="442.5" cy="374.7" r="4.4"/><circle cx="443.4" cy="375.4" r="4.4"/><circle cx="444.2" cy="376.1" r="4.4"/><circle cx="445.1" cy="376" r="4.4"/><circle cx="445.9" cy="376" r="4.4"/><circle cx="446.8" cy="376.7" r="4.4"/><circle cx="447.6" cy="377.2" r="4.4"/><circle cx="448.5" cy="378.6" r="4.4"/><circle cx="449.3" cy="376.2" r="4.4"/><circle cx="450.2" cy="377.3" r="4.4"/><circle cx="451" cy="377.1" r="4.4"/><circle cx="451.9" cy="376.7" r="4.4"/><circle cx="452.7" cy="377.2" r="4.4"/><circle cx="453.6" cy="377.8" r="4.4"/><circle cx="454.4" cy="379.4" r="4.4"/><circle cx="455.3" cy="378.9" r="4.4"/><circle cx="456.1" cy="378.9" r="4.4"/><circle cx="457" cy="379.8" r="4.4"/><circle cx="457.8" cy="379.3" r="4.4"/><circle cx="458.7" cy="378.6" r="4.4"/><circle cx="459.5" cy="378.8" r="4.4"/><circle cx="460.4" cy="377.6" r="4.4"/><circle cx="461.2" cy="378.4" r="4.4"/><circle cx="462.1" cy="378" r="4.4"/><circle cx="462.9" cy="377" r="4.4"/><circle cx="463.8" cy="376.1" r="4.4"/><circle cx="464.6" cy="377.9" r="4.4"/><circle cx="465.4" cy="376.5" r="4.4"/><circle cx="466.3" cy="378.6" r="4.4"/><circle cx="467.1" cy="375.6" r="4.4"/><circle cx="468" cy="376.8" r="4.4"/><circle cx="468.8" cy="375.7" r="4.4"/><circle cx="469.7" cy="376.2" r="4.4"/><circle cx="470.5" cy="376.7" r="4.4"/><circle cx="471.4" cy="375.4" r="4.4"/><circle cx="472.2" cy="375.9" r="4.4"/><circle cx="473.1" cy="376" r="4.4"/><circle cx="473.9" cy="375.9" r="4.4"/><circle cx="474.8" cy="376.2" r="4.4"/><circle cx="475.6" cy="376.4" r="4.4"/><circle cx="476.5" cy="376.2" r="4.4"/><circle cx="477.3" cy="375.6" r="4.4"/><circle cx="478.2" cy="375" r="4.4"/><circle cx="479" cy="374.6" r="4.4"/><circle cx="479.9" cy="375.2" r="4.4"/><circle cx="480.7" cy="375.7" r="4.4"/><circle cx="481.6" cy="376.9" r="4.4"/><circle cx="482.4" cy="376.4" r="4.4"/><circle cx="483.3" cy="376" r="4.4"/><circle cx="484.1" cy="377.7" r="4.4"/><circle cx="485" cy="376.9" r="4.4"/><circle cx="485.8" cy="377.2" r="4.4"/><circle cx="486.7" cy="377.6" r="4.4"/><circle cx="487.5" cy="378.1" r="4.4"/><circle cx="488.4" cy="375.7" r="4.4"/><circle cx="489.2" cy="376.6" r="4.4"/><circle cx="490.1" cy="377.5" r="4.4"/><circle cx="490.9" cy="377" r="4.4"/><circle cx="491.8" cy="376.5" r="4.4"/><circle cx="492.6" cy="376.9" r="4.4"/><circle cx="493.5" cy="378.5" r="4.4"/><circle cx="494.3" cy="377" r="4.4"/><circle cx="495.2" cy="377.6" r="4.4"/><circle cx="496" cy="377.4" r="4.4"/><circle cx="496.9" cy="376" r="4.4"/><circle cx="497.7" cy="376.4" r="4.4"/><circle cx="498.5" cy="375.4" r="4.4"/><circle cx="499.4" cy="374.9" r="4.4"/><circle cx="500.2" cy="374.2" r="4.4"/><circle cx="501.1" cy="375.9" r="4.4"/><circle cx="501.9" cy="375.1" r="4.4"/><circle cx="502.8" cy="375.2" r="4.4"/><circle cx="503.6" cy="375" r="4.4"/><circle cx="504.5" cy="377.6" r="4.4"/><circle cx="505.3" cy="376.9" r="4.4"/><circle cx="506.2" cy="376.4" r="4.4"/><circle cx="507" cy="376.1" r="4.4"/><circle cx="507.9" cy="375.6" r="4.4"/><circle cx="508.7" cy="377.3" r="4.4"/><circle cx="509.6" cy="377.4" r="4.4"/><circle cx="510.4" cy="376.3" r="4.4"/><circle cx="511.3" cy="378.5" r="4.4"/><circle cx="512.1" cy="378.2" r="4.4"/><circle cx="513" cy="377" r="4.4"/><circle cx="513.8" cy="377.4" r="4.4"/><circle cx="514.7" cy="377.6" r="4.4"/><circle cx="515.5" cy="378.2" r="4.4"/><circle cx="516.4" cy="378.1" r="4.4"/><circle cx="517.2" cy="377.1" r="4.4"/><circle cx="518.1" cy="379.7" r="4.4"/><circle cx="518.9" cy="379" r="4.4"/><circle cx="519.8" cy="380.1" r="4.4"/><circle cx="520.6" cy="380.3" r="4.4"/><circle cx="521.5" cy="379.2" r="4.4"/><circle cx="522.3" cy="379.3" r="4.4"/><circle cx="523.2" cy="379.3" r="4.4"/><circle cx="524" cy="379" r="4.4"/><circle cx="524.9" cy="377.9" r="4.4"/><circle cx="525.7" cy="377.1" r="4.4"/><circle cx="526.6" cy="377.2" r="4.4"/><circle cx="527.4" cy="376.1" r="4.4"/><circle cx="528.3" cy="375.8" r="4.4"/><circle cx="529.1" cy="374.4" r="4.4"/><circle cx="530" cy="376.1" r="4.4"/><circle cx="530.8" cy="375.2" r="4.4"/></g>
</g>
<g stroke="#000" stroke-width="1.5" fill="none"><line x1="64.0" y1="7.9" x2="64.0" y2="383.0" /><line x1="63.4" y1="382.4" x2="531.4" y2="382.4" /><line x1="530.8" y1="7.9" x2="530.8" y2="383.0" /><line x1="60.0" y1="7.9" x2="531.4" y2="7.9" /><line x1="64" y1="382.4" x2="64" y2="386.4" /><line x1="106.4" y1="382.4" x2="106.4" y2="390.4" /><line x1="148.9" y1="382.4" x2="148.9" y2="386.4" /><line x1="191.3" y1="382.4" x2="191.3" y2="390.4" /><line x1="233.7" y1="382.4" x2="233.7" y2="386.4" /><line x1="276.2" y1="382.4" x2="276.2" y2="390.4" /><line x1="318.6" y1="382.4" x2="318.6" y2="386.4" /><line x1="361.1" y1="382.4" x2="361.1" y2="390.4" /><line x1="403.5" y1="382.4" x2="403.5" y2="386.4" /><line x1="445.9" y1="382.4" x2="445.9" y2="390.4" /><line x1="488.4" y1="382.4" x2="488.4" y2="386.4" /><line x1="530.8" y1="382.4" x2="530.8" y2="390.4" /><line x1="56" y1="375.1" x2="64.0" y2="375.1" /><line x1="60" y1="252.7" x2="64.0" y2="252.7" /><line x1="56" y1="130.3" x2="64.0" y2="130.3" /><line x1="60" y1="7.9" x2="64.0" y2="7.9" /></g>
<g font-family="Liberation Sans, sans-serif" font-weight="bold" font-size="20.3" fill="#000"><text x="106.4" y="410" text-anchor="middle">300</text><text x="191.3" y="410" text-anchor="middle">400</text><text x="276.2" y="410" text-anchor="middle">500</text><text x="361.1" y="410" text-anchor="middle">600</text><text x="445.9" y="410" text-anchor="middle">700</text><text x="530.8" y="410" text-anchor="middle">800</text><text x="52.3" y="381.7" text-anchor="end">0</text><text x="52.3" y="136.4" text-anchor="end">1</text></g>
<text x="297.5" y="452.2" text-anchor="middle" font-family="Liberation Sans, sans-serif" font-weight="bold" font-size="25.2">Wavelength, <tspan font-family="Liberation Serif, serif" font-weight="normal">&#955;</tspan> (nm)</text>
<text transform="translate(25.6,212) rotate(-90)" text-anchor="middle" font-family="Liberation Sans, sans-serif" font-weight="bold" font-size="25">Absorbance</text>
<rect x="164.6" y="12.1" width="362.9" height="49.1" fill="#fff" stroke="#777" stroke-width="1"/><line x1="178.2" y1="26.8" x2="222.5" y2="26.8" stroke="#333" stroke-width="1"/><circle cx="200.4" cy="26.8" r="1.5" fill="#000"/><line x1="178.2" y1="50.5" x2="222.5" y2="50.5" stroke="#ff6a6a" stroke-width="1"/><circle cx="200.7" cy="50.8" r="4.4" fill="#fff" stroke="#ff4040" stroke-width="1.1"/><g font-family="Liberation Sans, sans-serif" font-size="19.75" fill="#000"><text x="227.6" y="33.6">OIC2MS Under dark conditions</text><text x="227.6" y="56.8">OIC2MS Under sunlight exposure</text></g>
</svg>
</body></html>
